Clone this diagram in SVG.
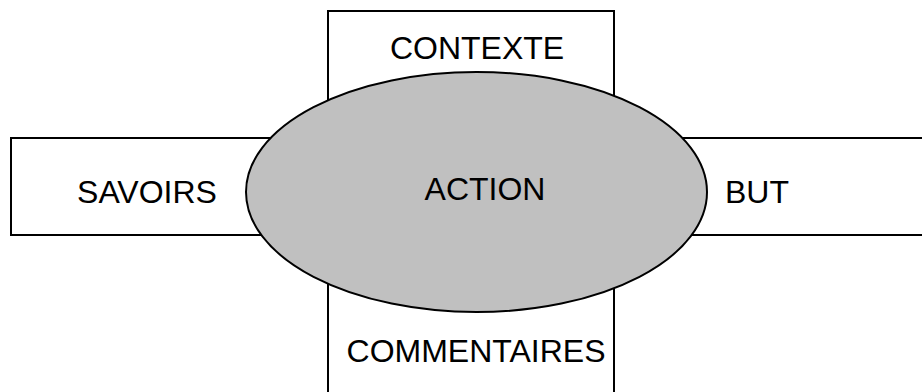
<svg xmlns="http://www.w3.org/2000/svg" width="922" height="392" viewBox="0 0 922 392">
<style>
.box{fill:#fff;stroke:#000;stroke-width:2}
.oval{fill:#c0c0c0;stroke:#000;stroke-width:2}
.lbl{font-family:"Liberation Sans",Arial,sans-serif;font-size:32px;fill:#000;text-anchor:middle}
</style>
<rect width="922" height="392" fill="#fff"/>
<g id="contexte"><rect class="box" x="328" y="11" width="286" height="150"/><text class="lbl" x="477" y="59">CONTEXTE</text></g>
<g id="commentaires"><rect class="box" x="328" y="230" width="286" height="180"/><text class="lbl" x="476" y="362">COMMENTAIRES</text></g>
<g id="savoirs"><rect class="box" x="11" y="138" width="300" height="97"/><text class="lbl" x="147" y="203">SAVOIRS</text></g>
<g id="but"><rect class="box" x="640" y="138" width="300" height="97"/><text class="lbl" x="757" y="203">BUT</text></g>
<g id="action"><ellipse class="oval" cx="476.5" cy="192" rx="230.5" ry="120"/><text class="lbl" x="485" y="200">ACTION</text></g>
<g id="connectors"></g>
</svg>
